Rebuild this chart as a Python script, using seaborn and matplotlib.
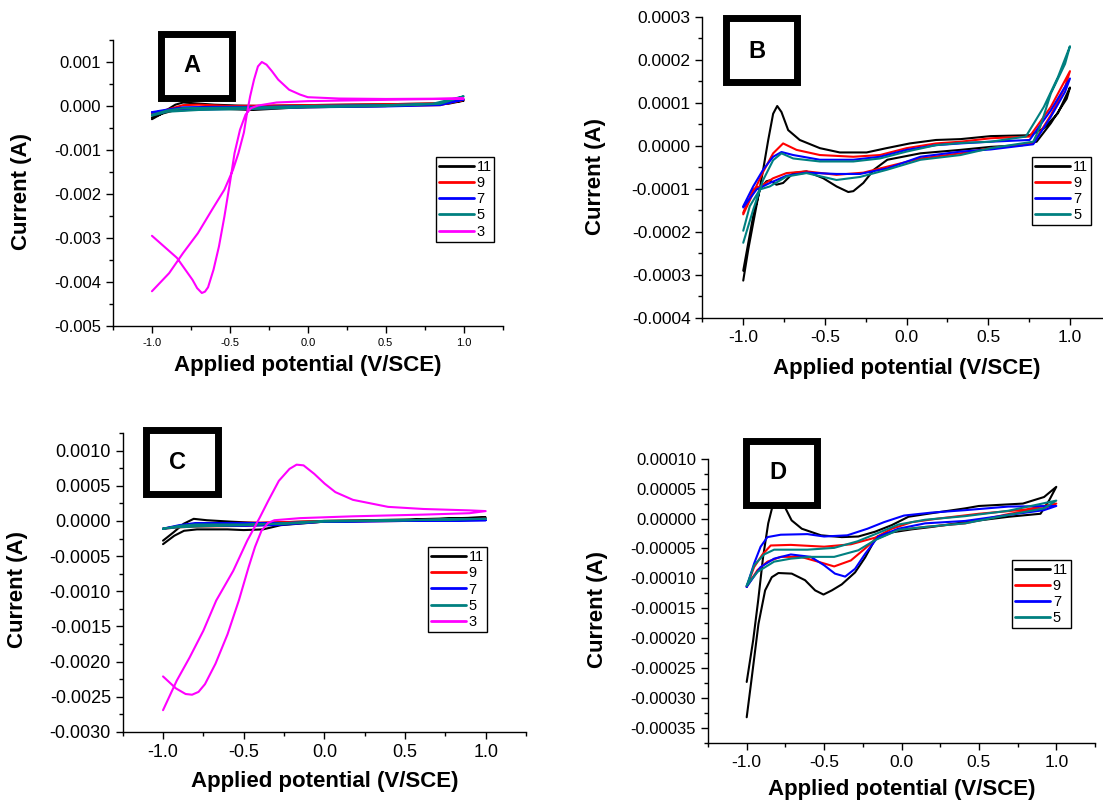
import pandas as pd
import matplotlib
matplotlib.use("Agg")
import matplotlib.pyplot as plt
import seaborn as sns
from matplotlib.patches import Rectangle
from matplotlib.lines import Line2D
from matplotlib.ticker import MultipleLocator, FormatStrFormatter

sns.set_style("ticks")
plt.rcParams['font.family'] = ['Liberation Sans', 'DejaVu Sans']
plt.rcParams['axes.unicode_minus'] = False
plt.rcParams['axes.edgecolor'] = 'black'
plt.rcParams['xtick.color'] = 'black'
plt.rcParams['ytick.color'] = 'black'
plt.rcParams['text.color'] = 'black'
plt.rcParams['axes.labelcolor'] = 'black'

colors = {'11': '#000000', '9': '#ff0000', '7': '#0000ff', '5': '#008080', '3': '#ff00ff'}

# ---- panel A, current in mA ----
a11_e = [-1.0, -0.95, -0.9, -0.85, -0.8, -0.72, -0.6, -0.45, -0.3, 0.0, 0.5, 0.85, 1.0,
         0.9, 0.5, 0.0, -0.2, -0.35, -0.5, -0.7, -0.85, -0.93, -1.0]
a11_i = [-0.30, -0.20, -0.08, 0.03, 0.08, 0.06, 0.03, 0.01, 0.0, 0.02, 0.04, 0.06, 0.12,
         0.05, 0.0, -0.02, -0.06, -0.09, -0.07, -0.06, -0.09, -0.17, -0.26]
a9_e = [-1.0, -0.9, -0.8, -0.7, -0.5, 0.0, 0.5, 0.85, 1.0, 0.85, 0.5, 0.0, -0.4, -0.7, -0.9, -1.0]
a9_i = [-0.20, -0.08, 0.02, 0.03, 0.0, 0.02, 0.04, 0.06, 0.14, 0.02, 0.0, -0.03, -0.06, -0.07, -0.12, -0.18]
a7_e = [-1.0, -0.9, -0.8, -0.6, -0.3, 0.0, 0.5, 0.85, 1.0, 0.85, 0.5, 0.0, -0.4, -0.7, -0.9, -1.0]
a7_i = [-0.14, -0.08, -0.03, -0.02, -0.02, 0.0, 0.02, 0.04, 0.15, 0.02, -0.01, -0.03, -0.06, -0.08, -0.11, -0.15]
a5_e = [-1.0, -0.9, -0.8, -0.6, -0.3, 0.0, 0.5, 0.8, 1.0, 0.85, 0.5, 0.0, -0.4, -0.7, -0.9, -1.0]
a5_i = [-0.20, -0.10, -0.05, -0.04, -0.03, 0.0, 0.02, 0.05, 0.22, 0.05, 0.0, -0.03, -0.07, -0.09, -0.13, -0.22]
a3_e = [-1.0, -0.92, -0.84, -0.74, -0.71, -0.68, -0.66, -0.64, -0.605, -0.57, -0.535, -0.50,
        -0.47, -0.435, -0.40, -0.365, -0.32, -0.2, 0.0, 0.5, 1.0, 0.5, 0.2, 0.0, -0.05, -0.12,
        -0.19, -0.23, -0.265, -0.295, -0.32, -0.345, -0.37, -0.39, -0.41, -0.445, -0.48,
        -0.535, -0.615, -0.705, -0.80, -0.89, -1.0]
a3_i = [-2.95, -3.2, -3.45, -3.95, -4.14, -4.25, -4.22, -4.12, -3.72, -3.19, -2.51, -1.75,
        -1.07, -0.54, -0.20, -0.05, 0.01, 0.08, 0.11, 0.14, 0.17, 0.16, 0.17, 0.2, 0.26, 0.37,
        0.6, 0.79, 0.94, 1.0, 0.9, 0.6, 0.22, -0.16, -0.6, -1.07, -1.45,
        -1.9, -2.36, -2.89, -3.34, -3.8, -4.21]

# ---- panel B, current in 1e-4 A ----
b11_e = [-1.0, -0.969, -0.939, -0.908, -0.878, -0.847, -0.817, -0.792, -0.766, -0.725, -0.654,
         -0.531, -0.409, -0.245, -0.123, 0.02, 0.18, 0.33, 0.515, 0.753, 0.84, 0.926, 1.0,
         0.98, 0.883, 0.796, 0.71, 0.515, 0.33, 0.085, -0.118, -0.2, -0.265, -0.326, -0.357,
         -0.429, -0.51, -0.613, -0.694, -0.756, -0.797, -0.837, -0.858, -0.898, -0.939, -0.969, -1.0]
b11_i = [-3.13, -2.40, -1.79, -1.17, -0.55, 0.14, 0.75, 0.93, 0.79, 0.37, 0.14,
         -0.05, -0.15, -0.15, -0.05, 0.06, 0.14, 0.16, 0.23, 0.25, 0.41, 0.76, 1.36,
         1.1, 0.53, 0.1, 0.02, -0.02, -0.09, -0.17, -0.32, -0.55, -0.86, -1.05, -1.07,
         -0.94, -0.75, -0.59, -0.63, -0.86, -0.90, -0.80, -0.82, -1.01, -1.63, -2.25, -2.9]
b9_e = [-1.0, -0.939, -0.878, -0.817, -0.756, -0.674, -0.531, -0.326, -0.163, 0.0, 0.18, 0.33,
        0.515, 0.753, 0.883, 1.0,
        0.97, 0.883, 0.775, 0.515, 0.33, 0.085, -0.118, -0.265, -0.429, -0.613, -0.735,
        -0.817, -0.878, -0.939, -1.0]
b9_i = [-1.59, -1.09, -0.60, -0.17, 0.06, -0.09, -0.21, -0.25, -0.21, -0.05, 0.06, 0.10,
        0.18, 0.22, 0.91, 1.74,
        1.37, 0.72, 0.06, -0.05, -0.17, -0.29, -0.48, -0.62, -0.67, -0.59, -0.63,
        -0.75, -0.90, -1.01, -1.55]
b7_e = [-1.0, -0.939, -0.878, -0.817, -0.766, -0.694, -0.531, -0.326, -0.163, 0.0, 0.18, 0.33,
        0.515, 0.753, 0.883, 1.0,
        0.97, 0.883, 0.775, 0.515, 0.33, 0.085, -0.118, -0.285, -0.429, -0.613, -0.735,
        -0.837, -0.918, -1.0]
b7_i = [-1.40, -0.94, -0.55, -0.25, -0.14, -0.21, -0.32, -0.32, -0.25, -0.09, 0.02, 0.06,
        0.10, 0.14, 0.83, 1.57,
        1.26, 0.68, 0.04, -0.08, -0.13, -0.25, -0.52, -0.65, -0.65, -0.62, -0.69,
        -0.86, -1.01, -1.43]
b5_e = [-1.0, -0.939, -0.878, -0.817, -0.766, -0.694, -0.531, -0.326, -0.163, 0.0, 0.18, 0.33,
        0.515, 0.73, 0.84, 0.926, 1.0,
        0.97, 0.883, 0.818, 0.775, 0.515, 0.33, 0.085, -0.118, -0.285, -0.429, -0.613,
        -0.735, -0.837, -0.898, -0.96, -1.0]
b5_i = [-2.25, -1.48, -0.79, -0.33, -0.17, -0.29, -0.36, -0.36, -0.29, -0.13, 0.02, 0.07,
        0.10, 0.22, 0.91, 1.60, 2.32,
        1.91, 1.22, 0.45, 0.10, -0.05, -0.21, -0.32, -0.55, -0.72, -0.79, -0.63,
        -0.71, -0.94, -1.01, -1.40, -1.97]

# ---- panel C, current in mA ----
c11_e = [-1.0, -0.934, -0.872, -0.81, -0.728, -0.58, -0.4, 0.0, 0.5, 1.0,
         0.5, 0.0, -0.27, -0.38, -0.5, -0.6, -0.79, -0.87, -0.93, -1.0]
c11_i = [-0.28, -0.16, -0.04, 0.03, 0.01, -0.01, -0.03, 0.0, 0.02, 0.05,
         0.01, -0.01, -0.06, -0.12, -0.13, -0.12, -0.12, -0.14, -0.21, -0.33]
c9_e = [-1.0, -0.9, -0.8, -0.6, -0.3, 0.0, 0.5, 1.0, 0.5, 0.0, -0.3, -0.5, -0.8, -0.9, -1.0]
c9_i = [-0.11, -0.07, -0.04, -0.03, -0.02, 0.0, 0.01, 0.03, 0.0, -0.01, -0.05, -0.07, -0.08, -0.09, -0.11]
c7_e = [-1.0, -0.9, -0.8, -0.5, -0.25, 0.0, 0.5, 1.0, 0.5, 0.0, -0.3, -0.5, -0.8, -0.9, -1.0]
c7_i = [-0.11, -0.06, -0.03, -0.03, -0.03, -0.01, 0.0, 0.01, 0.0, -0.01, -0.06, -0.07, -0.07, -0.08, -0.11]
c5_e = [-1.0, -0.9, -0.8, -0.5, -0.25, 0.0, 0.5, 1.0, 0.5, 0.0, -0.3, -0.5, -0.8, -0.9, -1.0]
c5_i = [-0.11, -0.07, -0.05, -0.05, -0.04, -0.01, 0.01, 0.03, 0.01, 0.0, -0.04, -0.06, -0.08, -0.09, -0.11]
c3_e = [-1.0, -0.92, -0.86, -0.82, -0.78, -0.74, -0.675, -0.6, -0.53, -0.47, -0.43, -0.39,
        -0.35, -0.31, -0.15, 0.18, 0.614, 0.9, 1.0, 0.9, 0.614, 0.395, 0.177, 0.068, 0.002,
        -0.063, -0.129, -0.172, -0.216, -0.282, -0.347, -0.4, -0.478, -0.565, -0.67, -0.75,
        -0.835, -0.915, -1.0]
c3_i = [-2.21, -2.38, -2.46, -2.47, -2.43, -2.32, -2.03, -1.61, -1.13, -0.66, -0.37, -0.14,
        -0.03, 0.01, 0.04, 0.066, 0.09, 0.11, 0.14, 0.15, 0.17, 0.2, 0.3, 0.41, 0.53,
        0.67, 0.79, 0.80, 0.74, 0.57, 0.29, 0.05, -0.28, -0.71, -1.13, -1.56,
        -1.94, -2.27, -2.69]

# ---- panel D, current in 1e-5 A ----
d11_e = [-1.0, -0.958, -0.926, -0.894, -0.861, -0.829, -0.79, -0.753, -0.71, -0.644, -0.52,
         -0.386, -0.279, -0.171, -0.063, 0.045, 0.196, 0.411, 0.5, 0.784, 0.921, 1.0,
         0.953, 0.898, 0.693, 0.411, 0.196, 0.067, -0.06, -0.171, -0.235, -0.3, -0.386,
         -0.45, -0.504, -0.558, -0.623, -0.709, -0.795, -0.838, -0.881, -0.924, -0.967, -1.0]
d11_i = [-27.3, -20.3, -13.7, -6.4, -0.8, 2.5, 3.5, 1.9, -0.3, -1.7, -2.8,
         -3.1, -3.0, -2.2, -1.1, 0.3, 0.9, 1.7, 2.1, 2.5, 3.6, 5.3,
         3.0, 0.8, 0.3, -0.6, -1.4, -1.8, -2.3, -3.5, -6.5, -9.0, -11.0,
         -12.0, -12.7, -12.0, -10.3, -9.2, -9.1, -9.8, -12.0, -17.6, -26.5, -33.2]
d9_e = [-1.0, -0.952, -0.898, -0.845, -0.715, -0.5, -0.327, -0.171, -0.063, 0.067, 0.239,
        0.5, 0.8, 1.0,
        0.92, 0.7, 0.411, 0.153, -0.02, -0.15, -0.235, -0.327, -0.435, -0.54, -0.65,
        -0.78, -0.866, -0.93, -1.0]
d9_i = [-11.4, -8.1, -6.0, -4.5, -4.4, -4.7, -4.3, -3.2, -1.7, -0.6, 0.0,
        0.8, 1.5, 2.5,
        1.7, 0.8, -0.8, -1.4, -1.9, -3.0, -5.0, -7.0, -8.0, -7.2, -6.4,
        -6.4, -7.2, -8.6, -11.4]
d7_e = [-1.0, -0.952, -0.91, -0.866, -0.78, -0.608, -0.5, -0.35, -0.22, -0.113, 0.016,
        0.196, 0.411, 0.69, 1.0,
        0.92, 0.69, 0.411, 0.153, -0.02, -0.15, -0.235, -0.3, -0.364, -0.43, -0.5,
        -0.586, -0.715, -0.823, -0.91, -1.0]
d7_i = [-11.4, -7.5, -4.7, -3.1, -2.7, -2.6, -3.0, -2.8, -1.7, -0.6, 0.5,
        1.0, 1.4, 2.0, 2.1,
        1.4, 0.6, -0.4, -0.8, -1.7, -3.0, -5.9, -8.4, -9.7, -9.2, -7.8,
        -6.4, -6.0, -6.7, -8.1, -11.4]
d5_e = [-1.0, -0.952, -0.888, -0.823, -0.608, -0.435, -0.284, -0.15, -0.02, 0.153, 0.411,
        0.69, 1.0,
        0.92, 0.69, 0.411, 0.153, -0.02, -0.171, -0.279, -0.435, -0.586, -0.715, -0.823,
        -0.93, -1.0]
d5_i = [-11.2, -7.8, -6.0, -5.2, -5.2, -4.9, -3.8, -2.4, -1.0, -0.2, 0.4,
        1.3, 3.0,
        1.7, 0.6, -0.8, -1.4, -1.9, -3.6, -5.3, -6.4, -6.4, -6.7, -7.2,
        -8.9, -11.2]

W, H = 1103, 807
fig = plt.figure(figsize=(W / 100, H / 100), dpi=100)


def frame(curves, scale):
    rows = []
    for scan, (e, i) in curves.items():
        for x, y in zip(e, i):
            rows.append((scan, x, y * scale))
    return pd.DataFrame(rows, columns=['scan', 'E', 'I'])


panels = [
    dict(letter='A', rect=(113, 40, 502.6, 326), ylim=(-0.005, 0.0015), major=0.001, minor=0.0005,
         fmt='%.3f', yfs=12, xfs=8, scale=1e-3,
         curves={'11': (a11_e, a11_i), '9': (a9_e, a9_i), '7': (a7_e, a7_i), '5': (a5_e, a5_i), '3': (a3_e, a3_i)},
         leg=(0.828, 0.591), ylab=(-0.208, 0.47), xlab=(0.5, -0.101), box=(160.5, 34.5, 232, 97.5), txt=(192, 66)),
    dict(letter='B', rect=(702.4, 17, 1110.8, 318), ylim=(-0.0004, 0.0003), major=0.0001, minor=0.00005,
         fmt='%.4f', yfs=12.5, xfs=12.5, scale=1e-4,
         curves={'11': (b11_e, b11_i), '9': (b9_e, b9_i), '7': (b7_e, b7_i), '5': (b5_e, b5_i)},
         leg=(0.808, 0.535), ylab=(-0.236, 0.47), xlab=(0.5, -0.133), box=(725.5, 18.5, 797.3, 81.5), txt=(757, 51)),
    dict(letter='C', rect=(122.7, 433, 526, 732), ylim=(-0.003, 0.00125), major=0.0005, minor=0.00025,
         fmt='%.4f', yfs=13, xfs=13, scale=1e-3,
         curves={'11': (c11_e, c11_i), '9': (c9_e, c9_i), '7': (c7_e, c7_i), '5': (c5_e, c5_i), '3': (c3_e, c3_i)},
         leg=(0.7565, 0.618), ylab=(-0.235, 0.475), xlab=(0.5, -0.130), box=(146.3, 430.5, 218, 494.5), txt=(178, 462.5)),
    dict(letter='D', rect=(708, 458.7, 1095, 743), ylim=(-0.000375, 0.0001), major=0.00005, minor=0.000025,
         fmt='%.5f', yfs=12, xfs=12.5, scale=1e-5,
         curves={'11': (d11_e, d11_i), '9': (d9_e, d9_i), '7': (d7_e, d7_i), '5': (d5_e, d5_i)},
         leg=(0.7855, 0.644), ylab=(-0.258, 0.471), xlab=(0.5, -0.127), box=(745.5, 440.5, 817, 504.5), txt=(778, 472.5)),
]

for p in panels:
    x0, y0, x1, y1 = p['rect']
    ax = fig.add_axes([x0 / W, 1 - y1 / H, (x1 - x0) / W, (y1 - y0) / H])
    df = frame(p['curves'], p['scale'])
    order = list(p['curves'].keys())
    sns.lineplot(data=df, x='E', y='I', hue='scan', hue_order=order, palette=colors,
                 sort=False, estimator=None, lw=1.5, legend=False, ax=ax)
    ax.set_xlim(-1.25, 1.25)
    ax.set_ylim(*p['ylim'])
    ax.xaxis.set_major_locator(MultipleLocator(0.5))
    ax.xaxis.set_minor_locator(MultipleLocator(0.25))
    ax.yaxis.set_major_locator(MultipleLocator(p['major']))
    ax.yaxis.set_minor_locator(MultipleLocator(p['minor']))
    ax.xaxis.set_major_formatter(FormatStrFormatter('%.1f'))
    ax.yaxis.set_major_formatter(FormatStrFormatter(p['fmt']))
    ax.tick_params(which='major', direction='out', length=5, width=1)
    ax.tick_params(which='minor', direction='out', length=3, width=1)
    ax.tick_params(axis='y', labelsize=p['yfs'])
    ax.tick_params(axis='x', labelsize=p['xfs'])
    sns.despine(ax=ax)
    for s in ('left', 'bottom'):
        ax.spines[s].set_linewidth(1)
    ax.set_xlabel('Applied potential (V/SCE)', fontsize=16, fontweight='bold')
    ax.set_ylabel('Current (A)', fontsize=16, fontweight='bold')
    ax.xaxis.set_label_coords(*p['xlab'])
    ax.yaxis.set_label_coords(*p['ylab'])

    handles = [Line2D([0], [0], color=colors[s], lw=2) for s in order]
    leg = ax.legend(handles, order, loc='upper left', bbox_to_anchor=p['leg'], fontsize=10.5,
                    frameon=True, fancybox=False, edgecolor='black', framealpha=1,
                    handlelength=2.4, handletextpad=0.2, labelspacing=0.15,
                    borderpad=0.2, borderaxespad=0)
    leg.get_frame().set_linewidth(1)

    bx0, by0, bx1, by1 = p['box']
    fig.add_artist(Rectangle((bx0 / W, 1 - by1 / H), (bx1 - bx0) / W, (by1 - by0) / H,
                             transform=fig.transFigure, facecolor='white', edgecolor='black',
                             lw=5, zorder=5))
    fig.text(p['txt'][0] / W, 1 - p['txt'][1] / H, p['letter'], ha='center', va='center',
             fontsize=17, fontweight='bold', zorder=6)

fig.savefig('out.png', dpi=100)
